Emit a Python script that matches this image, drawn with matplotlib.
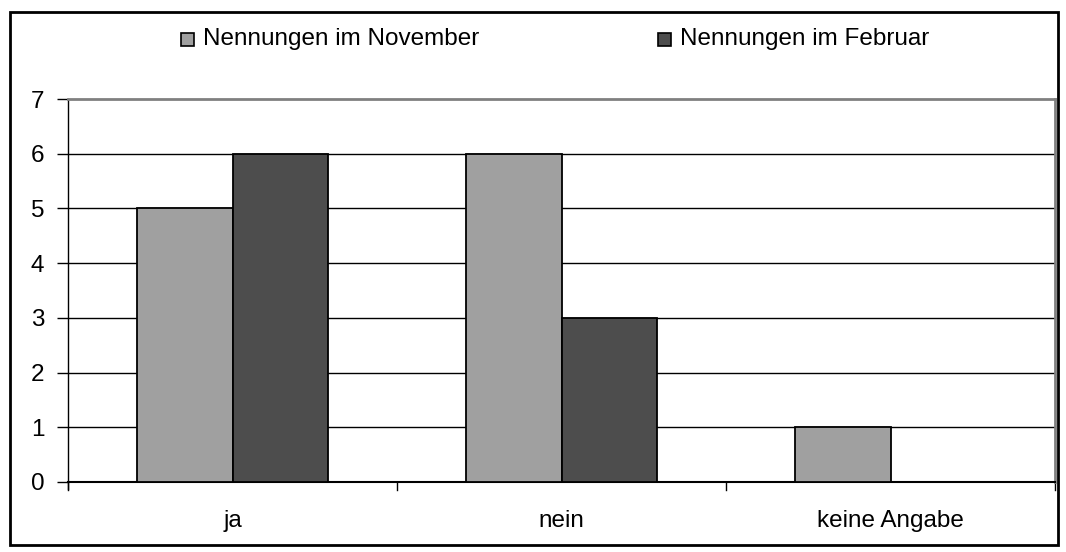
import matplotlib
matplotlib.use("Agg")
import matplotlib.pyplot as plt
from matplotlib.patches import Rectangle
import numpy as np

categories = ["ja", "nein", "keine Angabe"]
november = [5, 6, 1]
februar = [6, 3, 0]
series_labels = ["Nennungen im November", "Nennungen im Februar"]
y_ticks = [0, 1, 2, 3, 4, 5, 6, 7]

plt.rcParams["font.family"] = ["Liberation Sans", "DejaVu Sans"]
FS = 17.5

W, H = 1066, 552
fig = plt.figure(figsize=(W / 100, H / 100), dpi=100)

# frame around the whole chart
fig.patches.append(Rectangle((10 / W, 1 - 545 / H), 1048 / W, 533 / H,
                             transform=fig.transFigure, fill=False,
                             edgecolor="black", linewidth=2))

left, right, top, bottom = 68, 1055, 99, 482
ax = fig.add_axes([left / W, 1 - bottom / H, (right - left) / W, (bottom - top) / H])

x = np.arange(len(categories))
bw = 0.29
c_nov = "#a0a0a0"
c_feb = "#4d4d4d"
ax.bar(x - bw / 2, november, bw, color=c_nov, edgecolor="black", linewidth=1.3, zorder=3)
ax.bar(x + bw / 2, [v if v > 0 else np.nan for v in februar], bw, color=c_feb,
       edgecolor="black", linewidth=1.3, zorder=3)

ax.set_xlim(-0.5, len(categories) - 0.5)
ax.set_ylim(0, 7)
ax.set_yticks(y_ticks)
ax.set_yticklabels([str(t) for t in y_ticks], fontsize=FS)
for t in y_ticks[1:-1]:
    ax.axhline(t, color="black", linewidth=1, zorder=1)

ax.set_xticks(x)
ax.set_xticklabels(categories, fontsize=FS)
ax.tick_params(axis="x", length=0, pad=20)
ax.tick_params(axis="y", length=8, width=1, color="black", pad=9, direction="out")

# category boundary ticks below the axis
for b in np.arange(-0.5, len(categories), 1.0):
    ax.plot([b, b], [0, -0.15], color="black", linewidth=1, clip_on=False, zorder=2)

for s in ["top", "right"]:
    ax.spines[s].set_color("#808080")
    ax.spines[s].set_linewidth(2)
ax.spines["left"].set_color("black")
ax.spines["bottom"].set_color("black")
ax.spines["left"].set_linewidth(1)
ax.spines["bottom"].set_linewidth(1.5)
ax.spines["left"].set_bounds(-0.12, 7)

# legend entries laid out in a row
leg_y = 1 - 39 / H
for lx, color, label in [(181, c_nov, series_labels[0]), (658, c_feb, series_labels[1])]:
    fig.patches.append(Rectangle((lx / W, leg_y - 6.5 / H), 13 / W, 13 / H,
                                 transform=fig.transFigure, facecolor=color,
                                 edgecolor="black", linewidth=1.2))
    fig.text((lx + 22) / W, leg_y, label, fontsize=FS, va="center", ha="left")

fig.savefig("out.png", dpi=100)
